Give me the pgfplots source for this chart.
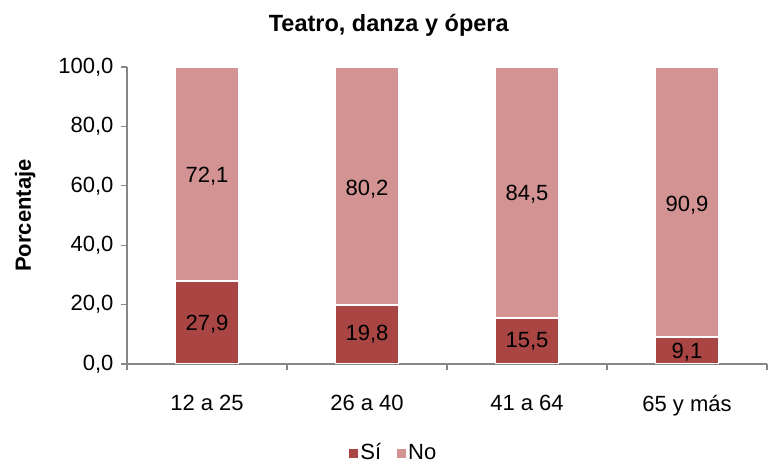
\documentclass[border=0pt]{standalone}
\usepackage{fontspec}
\setmainfont{Liberation Sans}
\usepackage{pgfplots}
\pgfplotsset{compat=1.18}
\definecolor{si}{HTML}{A94644}
\definecolor{no}{HTML}{D39393}
\definecolor{axgray}{HTML}{868686}
\begin{document}
\fontsize{22}{26}\selectfont
\begin{tikzpicture}
\path[use as bounding box] (0pt,0pt) rectangle (769pt,465pt);
\pgfplotsset{
  base/.style={
    at={(127pt,101pt)}, anchor=south west,
    scale only axis, width=640pt, height=297pt,
    xmin=-0.5, xmax=3.5, ymin=0, ymax=100,
  }
}
\begin{axis}[base,
  ybar stacked, bar width=63pt,
  axis x line*=bottom, axis y line*=left,
  axis line style={axgray, line width=1.2pt},
  xtick={0,1,2,3},
  xticklabels={12 a 25,26 a 40,41 a 64,65 y más},
  major x tick style={draw=none},
  minor xtick={-0.5,0.5,1.5,2.5,3.5},
  minor x tick style={draw=axgray, line width=1.2pt},
  minor tick length=6pt,
  xticklabel style={yshift=-18pt},
  ytick={0,20,40,60,80,100},
  y tick style={axgray, line width=1.2pt},
  major tick length=6pt, tick align=outside,
  yticklabel style={/pgf/number format/.cd, fixed, fixed zerofill, precision=1, use comma, assume math mode=true},
  ylabel={\bfseries Porcentaje},
  ylabel style={at={(axis description cs:-0.159,0.5)}, anchor=center},
  title={\bfseries Teatro, danza y ópera},
  title style={at={(axis description cs:0.409,1.12)}, anchor=center, font=\fontsize{23.5}{26}\selectfont},
  legend style={at={(0.417,-0.30)}, anchor=center, draw=none, legend columns=2,
    /tikz/every even column/.append style={column sep=14pt}},
  legend image code/.code={\fill[#1, draw=none] (0pt,-4.5pt) rectangle (9pt,4.5pt);},
]
\addplot[fill=si, draw=white, line width=1.5pt] coordinates {(0,27.9) (1,19.8) (2,15.5) (3,9.1)};
\addplot[fill=no, draw=white, line width=1.5pt] coordinates {(0,72.1) (1,80.2) (2,84.5) (3,90.9)};
\legend{Sí,No}
\end{axis}
\begin{axis}[base, hide axis]
\addplot[draw=none, nodes near coords, point meta=explicit symbolic,
  every node near coord/.style={anchor=center, font=\fontsize{22}{26}\selectfont}]
  coordinates {(0,13.5)[27,9] (1,9.9)[19,8] (2,7.75)[15,5] (3,4.0)[9,1]
               (0,63.3)[72,1] (1,59.0)[80,2] (2,57.0)[84,5] (3,53.5)[90,9]};
\end{axis}
\end{tikzpicture}
\end{document}
